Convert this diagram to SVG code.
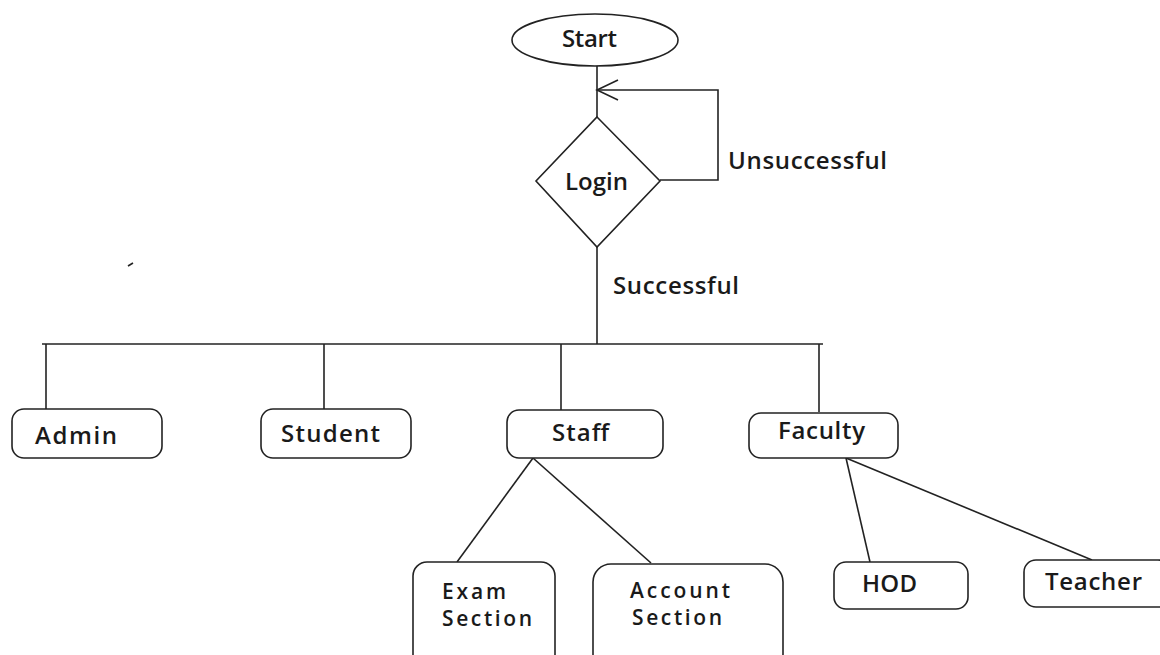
<svg xmlns="http://www.w3.org/2000/svg" width="1160" height="655" viewBox="0 0 1160 655">
<style>
.s{fill:#fff;stroke:#222;stroke-width:1.6}
.c{fill:none;stroke:#222;stroke-width:1.6}
text{font-family:"Open Sans","Noto Sans","Liberation Sans",sans-serif;font-size:24px;font-weight:600;fill:#1a1a1a}
.t{font-size:21px}
</style>
<rect width="1160" height="655" fill="#fff"/>
<g id="connectors">
<path class="c" d="M597 66V117"/>
<path class="c" d="M660 180H718V90H597"/>
<path class="c" d="M618 80L597 90L618 100"/>
<path class="c" d="M597 247V344"/>
<path class="c" d="M42 344H823"/>
<path class="c" d="M46 344V409"/>
<path class="c" d="M324 344V409"/>
<path class="c" d="M561 344V410"/>
<path class="c" d="M819 344V412"/>
<path class="c" d="M533 458L457 562"/>
<path class="c" d="M533 458L651 563"/>
<path class="c" d="M846 458L870 562"/>
<path class="c" d="M846 458L1092 560"/>
<path class="c" d="M128 266L133 263"/>
</g>
<g id="start"><ellipse class="s" cx="595" cy="40" rx="83" ry="26"/><text x="562" y="47" textLength="55">Start</text></g>
<g id="login"><polygon class="s" points="597,117 660,181 597,247 536,181"/><text x="565" y="190" textLength="63">Login</text></g>
<text x="728" y="169" textLength="159">Unsuccessful</text>
<text x="613" y="294" textLength="126">Successful</text>
<g id="admin"><rect class="s" x="12" y="409" width="150" height="49" rx="12"/><text x="35" y="444" textLength="82">Admin</text></g>
<g id="student"><rect class="s" x="261" y="409" width="150" height="49" rx="12"/><text x="281" y="442" textLength="99">Student</text></g>
<g id="staff"><rect class="s" x="507" y="410" width="156" height="48" rx="12"/><text x="552" y="441" textLength="57">Staff</text></g>
<g id="faculty"><rect class="s" x="749" y="413" width="149" height="45" rx="12"/><text x="778" y="439" textLength="87">Faculty</text></g>
<g id="exam"><rect class="s" x="413" y="562" width="142" height="110" rx="14"/><text class="t" x="442" y="599" textLength="64">Exam</text><text class="t" x="442" y="626" textLength="90">Section</text></g>
<g id="account"><rect class="s" x="593" y="564" width="190" height="108" rx="18"/><text class="t" x="630" y="598" textLength="100">Account</text><text class="t" x="632" y="625" textLength="90">Section</text></g>
<g id="hod"><rect class="s" x="834" y="562" width="134" height="47" rx="12"/><text x="862" y="592" textLength="55">HOD</text></g>
<g id="teacher"><rect class="s" x="1024" y="560" width="146" height="47" rx="12"/><text x="1045" y="590" textLength="97">Teacher</text></g>
</svg>
